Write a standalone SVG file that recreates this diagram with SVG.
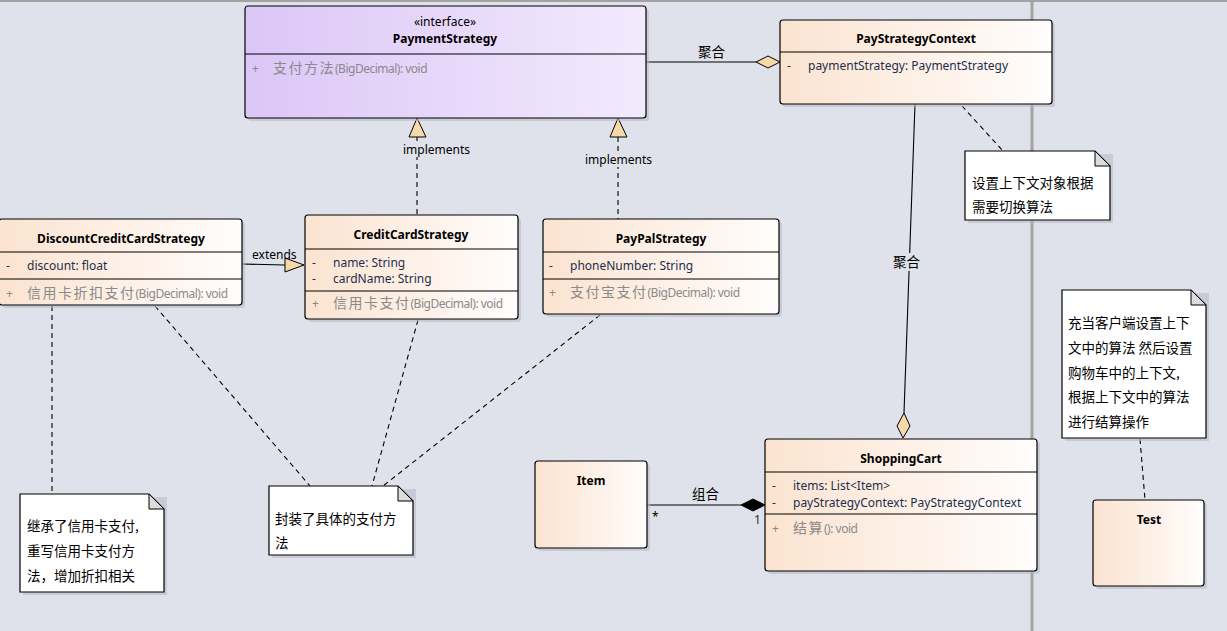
<svg xmlns="http://www.w3.org/2000/svg" width="1227" height="631" viewBox="0 0 1227 631">
<defs>
<linearGradient id="gc" x1="0" y1="0" x2="1" y2="0">
<stop offset="0" stop-color="#fbe3d0"/>
<stop offset="1" stop-color="#fffdfc"/>
</linearGradient>
<linearGradient id="gi" x1="0" y1="0" x2="1" y2="0">
<stop offset="0" stop-color="#dbc6f7"/>
<stop offset="1" stop-color="#f3eafd"/>
</linearGradient>
<style>
text{font-family:"Noto Sans","Open Sans","Noto Sans CJK SC",sans-serif;font-size:12px;fill:#000}
.t{font-weight:bold;text-anchor:middle;font-size:12px}
.st{text-anchor:middle;font-size:12px}
.a{fill:#1c2f4d;font-size:12px}
.m{fill:#8a8a8a}
.cn{font-family:"Noto Sans CJK SC",sans-serif;font-size:14px;letter-spacing:1.5px}
.sig{font-size:12px;letter-spacing:-0.5px}
.nt{font-family:"Noto Sans CJK SC",sans-serif;font-size:13.5px}
.lbl{font-family:"Noto Sans CJK SC",sans-serif;font-size:13.5px}
.box{stroke:#000;stroke-width:1.2}
.sh{fill:#b9bdc7;opacity:0.6}
.dv{stroke:#000;stroke-width:1}
.dash{stroke:#000;stroke-width:1.1;stroke-dasharray:5,4;fill:none}
.sol{stroke:#000;stroke-width:1.1;fill:none}
.hd{fill:#f6d9a8;stroke:#000;stroke-width:1}
.note{fill:#fff;stroke:#000;stroke-width:1.2}
.fold{fill:#dcdcdc;stroke:#000;stroke-width:1}
.bgl{fill:#dfe2eb}
.mul{font-size:12px}
.blue{fill:#1c2f4d}
</style>
</defs>
<rect x="0" y="0" width="1227" height="631" fill="#dfe2eb"/>
<line x1="0" y1="1" x2="1227" y2="1" stroke="#a3a3a3" stroke-width="2"/>
<line x1="1032" y1="0" x2="1032" y2="631" stroke="#a3a3a3" stroke-width="3"/>

<g id="connectors">
<line class="sol" x1="646" y1="62" x2="756" y2="62"/>
<polygon class="hd" points="780,62 768,56 756,62 768,68"/>
<text class="lbl" x="698" y="57">聚合</text>
<line class="dash" x1="417" y1="137" x2="417" y2="215"/>
<polygon class="hd" points="417,118 409,137 426,137"/>
<rect class="bgl" x="402" y="141" width="68" height="16"/>
<text x="403" y="154">implements</text>
<line class="dash" x1="618" y1="137" x2="618" y2="219"/>
<polygon class="hd" points="618,118 610,137 627,137"/>
<rect class="bgl" x="584" y="151" width="68" height="16"/>
<text x="585" y="164">implements</text>
<line class="sol" x1="242" y1="264" x2="285" y2="265"/>
<polygon class="hd" points="304,265 285,258 285,272"/>
<text x="252" y="259">extends</text>
<line class="sol" x1="915" y1="104" x2="904" y2="413"/>
<polygon class="hd" points="903,438 897,426 904,413 910,426"/>
<rect class="bgl" x="892" y="253" width="34" height="18"/>
<text class="lbl" x="893" y="267">聚合</text>
<line class="sol" x1="647" y1="505" x2="741" y2="505"/>
<polygon points="765,505 753,499 741,505 753,511" fill="#000" stroke="#000"/>
<text class="lbl" x="692" y="499">组合</text>
<text class="mul" x="652" y="521">*</text>
<text class="mul blue" x="754" y="524">1</text>
<line class="dash" x1="962" y1="106" x2="1003" y2="151"/>
<line class="dash" x1="1140" y1="439" x2="1145" y2="500"/>
<line class="dash" x1="52" y1="306" x2="52" y2="494"/>
<line class="dash" x1="155" y1="306" x2="310" y2="486"/>
<line class="dash" x1="418" y1="320" x2="372" y2="486"/>
<line class="dash" x1="600" y1="315" x2="383" y2="486"/>
</g>

<g id="PaymentStrategy">
<rect class="sh" x="248" y="9" width="401" height="112" rx="3"/>
<rect class="box" x="245" y="6" width="401" height="112" rx="3" fill="url(#gi)"/>
<line class="dv" x1="245" y1="54" x2="646" y2="54"/>
<text class="st" x="445" y="26">«interface»</text>
<text class="t" x="445" y="43">PaymentStrategy</text>
<text class="m" x="252" y="73">+</text>
<text class="m" x="273" y="73"><tspan class="cn">支付方法</tspan><tspan class="sig">(BigDecimal): void</tspan></text>
</g>

<g id="PayStrategyContext">
<rect class="sh" x="783" y="23" width="272" height="84" rx="3"/>
<rect class="box" x="780" y="20" width="272" height="84" rx="3" fill="url(#gc)"/>
<line class="dv" x1="780" y1="52" x2="1052" y2="52"/>
<text class="t" x="916" y="43">PayStrategyContext</text>
<text class="a" x="787" y="70">-</text>
<text class="a" x="808" y="70">paymentStrategy: PaymentStrategy</text>
</g>

<g id="DiscountCreditCardStrategy">
<rect class="sh" x="3" y="222" width="242" height="86" rx="3"/>
<rect class="box" x="-1" y="219" width="243" height="86" rx="3" fill="url(#gc)"/>
<line class="dv" x1="0" y1="252" x2="242" y2="252"/>
<line class="dv" x1="0" y1="279" x2="242" y2="279"/>
<text class="t" x="121" y="243">DiscountCreditCardStrategy</text>
<text class="a" x="6" y="270">-</text>
<text class="a" x="27" y="270">discount: float</text>
<text class="m" x="6" y="298">+</text>
<text class="m" x="27" y="298"><tspan class="cn">信用卡折扣支付</tspan><tspan class="sig">(BigDecimal): void</tspan></text>
</g>

<g id="CreditCardStrategy">
<rect class="sh" x="308" y="218" width="213" height="104" rx="3"/>
<rect class="box" x="305" y="215" width="213" height="104" rx="3" fill="url(#gc)"/>
<line class="dv" x1="305" y1="249" x2="518" y2="249"/>
<line class="dv" x1="305" y1="291" x2="518" y2="291"/>
<text class="t" x="411" y="239">CreditCardStrategy</text>
<text class="a" x="312" y="267">-</text>
<text class="a" x="333" y="267">name: String</text>
<text class="a" x="312" y="283">-</text>
<text class="a" x="333" y="283">cardName: String</text>
<text class="m" x="312" y="308">+</text>
<text class="m" x="333" y="308"><tspan class="cn">信用卡支付</tspan><tspan class="sig">(BigDecimal): void</tspan></text>
</g>

<g id="PayPalStrategy">
<rect class="sh" x="546" y="222" width="236" height="95" rx="3"/>
<rect class="box" x="543" y="219" width="236" height="95" rx="3" fill="url(#gc)"/>
<line class="dv" x1="543" y1="252" x2="779" y2="252"/>
<line class="dv" x1="543" y1="279" x2="779" y2="279"/>
<text class="t" x="661" y="243">PayPalStrategy</text>
<text class="a" x="549" y="270">-</text>
<text class="a" x="570" y="270">phoneNumber: String</text>
<text class="m" x="549" y="297">+</text>
<text class="m" x="570" y="297"><tspan class="cn">支付宝支付</tspan><tspan class="sig">(BigDecimal): void</tspan></text>
</g>

<g id="ShoppingCart">
<rect class="sh" x="768" y="442" width="272" height="132" rx="3"/>
<rect class="box" x="765" y="439" width="272" height="132" rx="3" fill="url(#gc)"/>
<line class="dv" x1="765" y1="472" x2="1037" y2="472"/>
<line class="dv" x1="765" y1="514" x2="1037" y2="514"/>
<text class="t" x="901" y="463">ShoppingCart</text>
<text class="a" x="772" y="490">-</text>
<text class="a" x="793" y="490">items: List&lt;Item&gt;</text>
<text class="a" x="772" y="507">-</text>
<text class="a" x="793" y="507">payStrategyContext: PayStrategyContext</text>
<text class="m" x="772" y="533">+</text>
<text class="m" x="793" y="533"><tspan class="cn">结算</tspan><tspan class="sig">(): void</tspan></text>
</g>

<g id="Item">
<rect class="sh" x="538" y="464" width="112" height="87" rx="3"/>
<rect class="box" x="535" y="461" width="112" height="87" rx="3" fill="url(#gc)"/>
<text class="t" x="591" y="485">Item</text>
</g>

<g id="Test">
<rect class="sh" x="1096" y="503" width="111" height="86" rx="3"/>
<rect class="box" x="1093" y="500" width="111" height="86" rx="3" fill="url(#gc)"/>
<text class="t" x="1149" y="524">Test</text>
</g>

<g id="note-context">
<rect class="sh" x="968" y="154" width="145" height="69"/>
<polygon class="note" points="965,151 1095,151 1110,166 1110,220 965,220"/>
<polygon class="fold" points="1095,151 1110,166 1095,166"/>
<text class="nt" x="972" y="188">设置上下文对象根据</text>
<text class="nt" x="972" y="212">需要切换算法</text>
</g>

<g id="note-test">
<rect class="sh" x="1065" y="293" width="144" height="148"/>
<polygon class="note" points="1062,290 1191,290 1206,305 1206,438 1062,438"/>
<polygon class="fold" points="1191,290 1206,305 1191,305"/>
<text class="nt" x="1068" y="328">充当客户端设置上下</text>
<text class="nt" x="1068" y="353">文中的算法 然后设置</text>
<text class="nt" x="1068" y="378">购物车中的上下文,</text>
<text class="nt" x="1068" y="402">根据上下文中的算法</text>
<text class="nt" x="1068" y="427">进行结算操作</text>
</g>

<g id="note-discount">
<rect class="sh" x="23" y="497" width="144" height="98"/>
<polygon class="note" points="20,494 149,494 164,509 164,592 20,592"/>
<polygon class="fold" points="149,494 164,509 149,509"/>
<text class="nt" x="27" y="531">继承了信用卡支付,</text>
<text class="nt" x="27" y="556">重写信用卡支付方</text>
<text class="nt" x="27" y="581">法，增加折扣相关</text>
</g>

<g id="note-encapsulate">
<rect class="sh" x="272" y="489" width="144" height="69"/>
<polygon class="note" points="269,486 398,486 413,501 413,555 269,555"/>
<polygon class="fold" points="398,486 413,501 398,501"/>
<text class="nt" x="275" y="524">封装了具体的支付方</text>
<text class="nt" x="275" y="548">法</text>
</g>
</svg>
